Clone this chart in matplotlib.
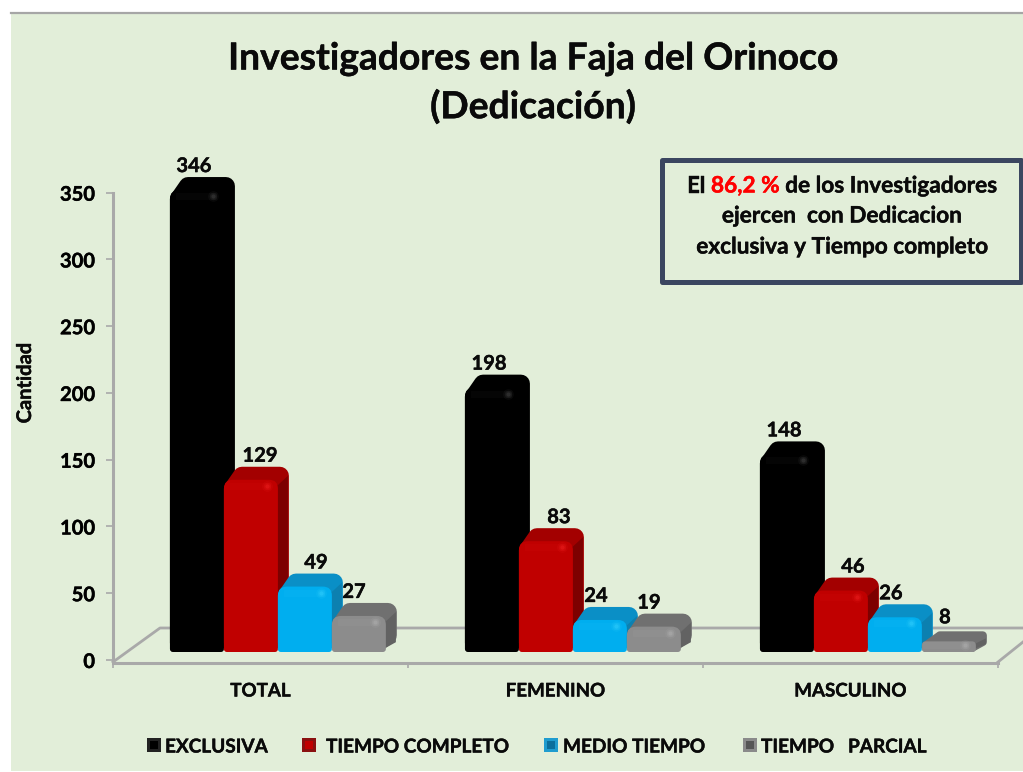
import matplotlib
matplotlib.use('Agg')
import matplotlib.pyplot as plt
import matplotlib.patheffects as pe
from matplotlib.lines import Line2D
from matplotlib.patches import PathPatch, Polygon, Rectangle
from matplotlib.path import Path
from matplotlib.text import Text
from matplotlib.transforms import Affine2D, IdentityTransform

categories = ['TOTAL', 'FEMENINO', 'MASCULINO']
series_names = ['EXCLUSIVA', 'TIEMPO COMPLETO', 'MEDIO TIEMPO', 'TIEMPO   PARCIAL']
exclusiva = [346, 198, 148]
completo = [129, 83, 46]
medio = [49, 24, 26]
parcial = [27, 19, 8]
yticks = [0, 50, 100, 150, 200, 250, 300, 350]

W, H = 1023, 772
BG = '#e2eed9'
FONT = 'Lato'
plt.rcParams['font.family'] = [FONT, 'DejaVu Sans']

# (front, top, side, highlight)
colors = [('#000000', '#000000', '#000000', '#4a4a4a'),
          ('#c00000', '#a30000', '#7d0000', '#f02020'),
          ('#00aeef', '#0a8fc6', '#0c80b0', '#35d0ff'),
          ('#8c8c8c', '#707070', '#626262', '#b4b4b4')]
legend_rim = ['#222222', '#8a1010', '#1f9ccf', '#8a8a8a']
legend_mid = ['#000000', '#c00000', '#0b6f9c', '#555555']


def front_path(x0, y0, x1, y1, rt, rb):
    # box with big radius on top, small one at the floor
    verts = [(x0 + rb, y0), (x1 - rb, y0), (x1, y0), (x1, y0 + rb), (x1, y1 - rt), (x1, y1), (x1 - rt, y1),
             (x0 + rt, y1), (x0, y1), (x0, y1 - rt), (x0, y0 + rb), (x0, y0), (x0 + rb, y0)]
    codes = [Path.MOVETO, Path.LINETO, Path.CURVE3, Path.CURVE3, Path.LINETO, Path.CURVE3, Path.CURVE3,
             Path.LINETO, Path.CURVE3, Path.CURVE3, Path.LINETO, Path.CURVE3, Path.CURVE3]
    return Path(verts, codes)


fig = plt.figure(figsize=(W / 100, H / 100), dpi=100, facecolor='white')
ax = fig.add_axes([113 / W, (H - 660) / H, (998 - 113) / W, (660 - 192.7) / H])
ax.set_xlim(0, 3)
ax.set_ylim(0, 350)
ax.patch.set_alpha(0)
px = Affine2D().scale(1, -1).translate(0, H)  # reference pixels, y down

fig.patches.append(Rectangle((11, 13), W - 11, H - 14, transform=px, fc=BG, ec='none', zorder=-5, figure=fig))
fig.add_artist(Line2D([11, W], [13, 13], transform=px, color='#a6a6a6', lw=1.6))

for s in ['top', 'right']:
    ax.spines[s].set_visible(False)
for s in ['left', 'bottom']:
    ax.spines[s].set_color('#a9a9a9')
    ax.spines[s].set_linewidth(2.2)
ax.spines['bottom'].set_position(('outward', 2))
ax.set_xticks([0, 1, 2, 3])
ax.set_xticklabels([])
ax.set_yticks(yticks)
ax.tick_params(axis='x', color='#a9a9a9', length=3.5, width=1.2)
ax.tick_params(axis='y', color='#a9a9a9', length=5, width=1.2, pad=8, labelsize=14.5)
for t in ax.get_yticklabels():
    t.set_fontweight('bold')

# floor of the 3D box
floor = dict(transform=px, color='#a9a9a9', lw=2.0, zorder=1)
ax.add_line(Line2D([113, 160, W], [662, 628, 628], clip_on=False, **floor))
ax.add_line(Line2D([998, W], [662, 642], clip_on=False, **floor))

fig.canvas.draw()
to_disp = ax.transData.transform
idt = IdentityTransform()

GROUP_START = 0.193
PITCH = 0.183
LIFT = 8   # bars stand on the floor, above the axis
DX, DY = 11, 13
all_series = [exclusiva, completo, medio, parcial]
label_dx = [[24, 24, 24], [36, 40, 39], [38, 23, 23], [22, 22, 23]]

z = 3
for g in range(len(categories)):
    for j, vals in enumerate(all_series):
        front, top, side, hi = colors[j]
        x0 = g + GROUP_START + j * PITCH
        left, bottom = to_disp((x0, 0))
        right, ytop = to_disp((x0 + PITCH, vals[g]))
        bottom += LIFT
        ytop += LIFT
        r = min(9, (ytop - bottom) / 2.6)
        dy = DY if vals[g] > 15 else 10
        # whole body: rounded silhouette of front, top and side
        hull = [(left + r, bottom + r), (left + r, ytop - r), (left + DX + 7, ytop + dy - r),
                (right + DX - r, ytop + dy - r), (right + DX - r, bottom + dy * 0.6 + r), (right - r, bottom + r)]
        ax.add_patch(Polygon(hull, closed=True, transform=idt, fc=top, ec=top, lw=r * 2 * 0.72,
                             joinstyle='round', clip_on=False, zorder=z))
        ax.add_patch(Polygon([(right - 4, bottom + 2), (right - 4, ytop - r), (right + DX - 1, ytop + dy * 0.3),
                              (right + DX - 1, bottom + dy * 0.6 + 2)], closed=True, transform=idt,
                             fc=side, ec='none', clip_on=False, zorder=z + 0.1))
        ax.add_patch(PathPatch(front_path(left, bottom, right, ytop, r, 3), transform=idt,
                               fc=front, ec='none', clip_on=False, zorder=z + 0.2))
        # soft highlight at the top corner of the front face
        for size, alpha in [(60, 0.12), (28, 0.22), (9, 0.4)]:
            ax.scatter([right - 11], [ytop - min(6, r)], s=size, color=hi, alpha=alpha, transform=idt,
                       lw=0, clip_on=False, zorder=z + 0.3)
        ax.add_line(Line2D([left + r, right - 11], [ytop - min(6, r)] * 2, transform=idt, color=hi, alpha=0.08,
                           lw=5, clip_on=False, zorder=z + 0.3))
        ax.text(left + label_dx[j][g], ytop + 24, str(vals[g]), transform=idt, ha='center', va='center',
                fontsize=14.5, fontweight='bold', color='#0a0a0a', zorder=40)
        z += 1

fig.text(533, 59, 'Investigadores en la Faja del Orinoco', transform=px, ha='center', va='center',
         fontsize=26.8, fontweight='bold', color='#0a0a0a')
fig.text(533, 107, '(Dedicación)', transform=px, ha='center', va='center',
         fontsize=26.8, fontweight='bold', color='#0a0a0a')
fig.text(25, 383, 'Cantidad', transform=px, rotation=90, ha='center', va='center',
         fontsize=14.5, fontweight='bold', color='#0a0a0a')
for i, c in enumerate(categories):
    x = ax.transData.transform((i + 0.5, 0))[0]
    ax.text(x, 691, c, transform=px, ha='center', va='center', fontsize=13.5, fontweight='bold',
            color='#0a0a0a', clip_on=False)

# legend
square_x = [147, 302, 544, 743]
text_x = [165, 326, 563, 761]
for name, sx, tx, rim, mid in zip(series_names, square_x, text_x, legend_rim, legend_mid):
    fig.add_artist(Rectangle((sx, 738), 14, 14, transform=px, fc=rim, ec='none'))
    fig.add_artist(Rectangle((sx + 3, 741), 8, 8, transform=px, fc=mid, ec='none'))
    fig.text(tx, 747, name, transform=px, ha='left', va='center', fontsize=13.7, fontweight='bold', color='#0a0a0a')

# note box
fig.add_artist(Rectangle((662, 160), 359, 122, transform=px, fc=BG, ec='#3b4660', lw=3.6, joinstyle='round'))
box_size = 16.3
renderer = fig.canvas.get_renderer()
pieces = [('El ', '#0a0a0a'), ('86,2 %', '#ff0000'), (' de los Investigadores', '#0a0a0a')]
widths = []
for s, col in pieces:
    t = fig.text(0, 0, s.replace(' ', '\u00a0'), fontsize=box_size, fontweight='bold')
    widths.append(t.get_window_extent(renderer).width)
    t.remove()
cur = 842 - sum(widths) / 2
for (s, col), w in zip(pieces, widths):
    fig.text(cur, 186, s.replace(' ', '\u00a0'), transform=px, ha='left', va='center', fontsize=box_size,
             fontweight='bold', color=col)
    cur += w
fig.text(842, 216, 'ejercen  con Dedicacion', transform=px, ha='center', va='center', fontsize=box_size,
         fontweight='bold', color='#0a0a0a')
fig.text(842, 247, 'exclusiva y Tiempo completo', transform=px, ha='center', va='center', fontsize=box_size,
         fontweight='bold', color='#0a0a0a')

# the original face is a little heavier than Lato Bold
for t in fig.findobj(Text):
    if t.get_text():
        t.set_path_effects([pe.withStroke(linewidth=0.3, foreground=t.get_color())])

fig.savefig('out.png', dpi=100, facecolor='white')
